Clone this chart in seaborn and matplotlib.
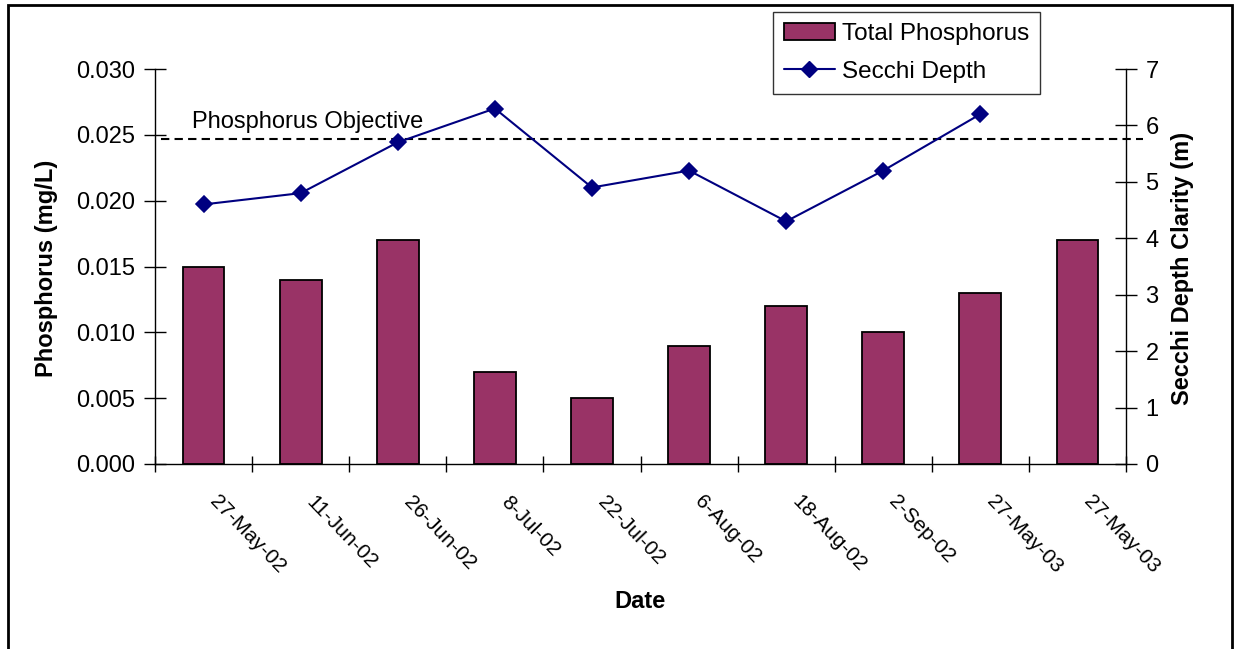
import matplotlib
matplotlib.use("Agg")
import matplotlib.pyplot as plt
import matplotlib.patches as mpatches
import matplotlib.lines as mlines
import matplotlib.transforms as mtransforms
import numpy as np
import pandas as pd
import seaborn as sns

# Sampling dates and measurements
dates = ["27-May-02", "11-Jun-02", "26-Jun-02", "8-Jul-02", "22-Jul-02",
         "6-Aug-02", "18-Aug-02", "2-Sep-02", "27-May-03", "27-May-03 "]
total_phosphorus = [0.015, 0.014, 0.017, 0.007, 0.005, 0.009, 0.012, 0.010, 0.013, 0.017]
secchi_depth = [4.6, 4.8, 5.7, 6.3, 4.9, 5.2, 4.3, 5.2, 6.2, np.nan]
phosphorus_objective = 0.0247

tick_labels = [d.strip() for d in dates]

sns.set_style("white")
plt.rcParams["font.family"] = ["Liberation Sans", "DejaVu Sans"]
plt.rcParams.update({"text.color": "black", "axes.labelcolor": "black",
                     "xtick.color": "black", "ytick.color": "black"})

BAR_COLOR = "#993366"
LINE_COLOR = "#000080"
FS = 17

df = pd.DataFrame({"date": dates, "tp": total_phosphorus, "secchi": secchi_depth})

fig = plt.figure(figsize=(12.36, 6.49), dpi=100)
ax = fig.add_axes([155 / 1236, 1 - 464 / 649, 971 / 1236, 395 / 649])
ax2 = ax.twinx()

sns.barplot(data=df, x="date", y="tp", order=dates, color=BAR_COLOR,
            saturation=1, width=0.43, edgecolor="black", linewidth=1.3,
            ax=ax, zorder=2)

sns.pointplot(data=df, x="date", y="secchi", order=dates, color=LINE_COLOR,
              markers="D", linestyles="-", errorbar=None, markersize=8,
              linewidth=1.5, ax=ax2)

# Left axis
ax.set_ylim(0, 0.030)
ax.set_yticks(np.arange(0, 0.0301, 0.005))
ax.set_yticklabels([f"{v:.3f}" for v in np.arange(0, 0.0301, 0.005)])
ax.set_xlim(-0.5, len(dates) - 0.5)

# Right axis
ax2.set_ylim(0, 7)
ax2.set_yticks(range(0, 8))

for a in (ax, ax2):
    a.spines["top"].set_visible(False)
    a.grid(False)
ax.spines["right"].set_visible(False)
ax2.spines["left"].set_visible(False)
ax2.spines["bottom"].set_visible(False)
for sp in ("left", "bottom"):
    ax.spines[sp].set_color("black")
    ax.spines[sp].set_linewidth(1)
ax2.spines["right"].set_color("black")
ax2.spines["right"].set_linewidth(1)

ax.tick_params(axis="y", direction="inout", length=16, width=1, labelsize=FS,
               pad=6, left=True, colors="black")
ax2.tick_params(axis="y", direction="inout", length=16, width=1, labelsize=FS,
                pad=6, right=True, colors="black")

# Category labels at centers, tick marks at category boundaries
ax.set_xticks(range(len(dates)))
ax.set_xticklabels(tick_labels, rotation=-46, ha="left", va="center",
                   rotation_mode="anchor", fontsize=15, color="black")
ax.tick_params(axis="x", which="major", length=0, pad=25)
ax.set_xticks(np.arange(-0.5, len(dates) + 0.5, 1), minor=True)
ax.tick_params(axis="x", which="minor", direction="inout", length=11, width=1,
               bottom=True, colors="black")
ax2.tick_params(axis="x", which="both", bottom=False, top=False,
                labelbottom=False, labeltop=False)

ax.set_xlabel("")
ax.set_ylabel("")
ax2.set_xlabel("")
ax2.set_ylabel("")

fig.text(47 / 1236, 1 - 268 / 649, "Phosphorus (mg/L)", rotation=90,
         ha="center", va="center", fontsize=FS, fontweight="bold")
fig.text(1183 / 1236, 1 - 268 / 649, "Secchi Depth Clarity (m)", rotation=90,
         ha="center", va="center", fontsize=FS, fontweight="bold")
fig.text(640 / 1236, 1 - 602 / 649, "Date", ha="center", va="center",
         fontsize=FS, fontweight="bold")

# Objective line
trans = ax.get_yaxis_transform()
ax.plot([0.006, 1.018], [phosphorus_objective] * 2, transform=trans,
        color="black", linestyle=(0, (4, 2.5)), linewidth=1.5, clip_on=False,
        zorder=3)
ax.annotate("Phosphorus Objective", xy=(0.038, phosphorus_objective),
            xycoords=trans, xytext=(0, 4), textcoords="offset points",
            ha="left", va="bottom", fontsize=FS)

ax2.set_zorder(ax.get_zorder() + 1)
ax2.patch.set_visible(False)

# Legend
bar_handle = mpatches.Patch(facecolor=BAR_COLOR, edgecolor="black", linewidth=1.3)
line_handle = mlines.Line2D([], [], color=LINE_COLOR, marker="D", markersize=8,
                            linewidth=1.5)
leg = fig.legend([bar_handle, line_handle], ["Total Phosphorus", "Secchi Depth"],
                 loc="upper left", bbox_to_anchor=(773 / 1236, 1 - 12 / 649),
                 frameon=True, fancybox=False, edgecolor="black", fontsize=17.5,
                 handlelength=2.1, handleheight=0.7, handletextpad=0.3,
                 labelspacing=0.65, borderpad=0.45, borderaxespad=0)
leg.get_frame().set_linewidth(1)

# Outer frame
fig.patches.append(mpatches.Rectangle((8 / 1236, -0.05), (1232 - 8) / 1236,
                                      1.05 - 5 / 649, transform=fig.transFigure,
                                      fill=False, edgecolor="black", linewidth=2))

# Nudge the rotated date labels to the right of each category center
shift = mtransforms.ScaledTranslation(9 / 100, 0, fig.dpi_scale_trans)
for lbl in ax.get_xticklabels():
    lbl.set_transform(lbl.get_transform() + shift)

fig.savefig("out.png", dpi=100)
